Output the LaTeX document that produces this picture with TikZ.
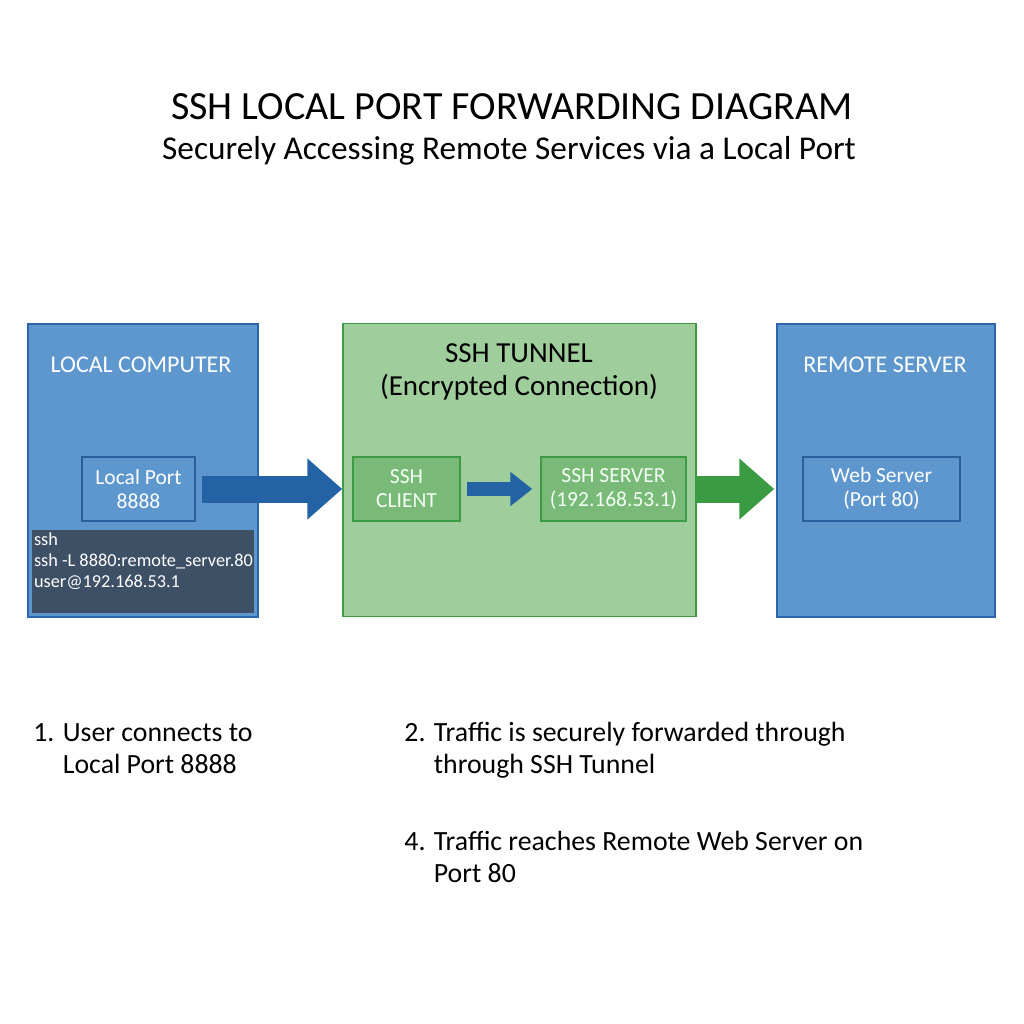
\documentclass[tikz,border=0pt]{standalone}
\usepackage{fontspec}
\setmainfont{Carlito}
\usetikzlibrary{positioning,arrows.meta}
\definecolor{boxblue}{HTML}{5D97CE}
\definecolor{edgeblue}{HTML}{2E66AD}
\definecolor{innerblue}{HTML}{2B5E9C}
\definecolor{termgray}{HTML}{3D5066}
\definecolor{boxgreen}{HTML}{9FCD9B}
\definecolor{innergreen}{HTML}{79BA79}
\definecolor{edgegreen}{HTML}{3E9B45}
\definecolor{arrowblue}{HTML}{2462A6}
\definecolor{arrowgreen}{HTML}{3A9B43}
\begin{document}
\begin{tikzpicture}[x=1pt, y=-1pt, thick,
  outer/.style = {draw=edgeblue, fill=boxblue, line width=1.5pt, inner sep=0pt, minimum height=293pt},
  inner/.style = {draw=innerblue, fill=boxblue, line width=1.5pt, minimum height=64pt, inner sep=0pt, text=white, align=center, font=\fontsize{21.5}{24}\selectfont},
  ginner/.style = {inner, draw=edgegreen, fill=innergreen, text=white!95!green},
  head/.style = {text=white, font=\fontsize{24}{28}\selectfont, anchor=base},
  note/.style = {anchor=base west, inner sep=0pt, align=left, font=\fontsize{27.8}{32}\selectfont},
  fat/.style = {line width=27pt, -{Triangle[length=35pt, width=59pt]}}]
\useasboundingbox[fill=white] (0,0) rectangle (1024,1024);
\node (title) [anchor=base, font=\fontsize{40}{44}\selectfont] at (512,120) {SSH LOCAL PORT FORWARDING DIAGRAM};
\node (subtitle) [anchor=base, font=\fontsize{33.3}{38}\selectfont] at (509,160) {Securely Accessing Remote Services via a Local Port};
\node[outer, minimum width=230pt] (local) at (143,470.5) {};
\node[outer, minimum width=353pt, draw=edgegreen, fill=boxgreen] (tunnel) at (519.5,470) {};
\node[outer, minimum width=218pt] (remote) at (886,470.5) {};
\node[head] (localname) at (141,372) {LOCAL COMPUTER};
\node[head] (remotename) at (885,372) {REMOTE SERVER};
\node[align=center, font=\fontsize{29}{33}\selectfont] (tunnelname) at (519,372) {SSH TUNNEL\\(Encrypted Connection)};
\node[inner, minimum width=113pt] (lport) at (138.5,489) {Local Port\\8888};
\node[fill=termgray, minimum width=222pt, minimum height=83pt, inner sep=0pt] (term) at (143,571.5) {};
\node[anchor=north west, inner sep=0pt, align=left, text=white, font=\fontsize{18.3}{21}\selectfont] (cmd) at ([xshift=2pt, yshift=-3pt]term.north west) {ssh\\ ssh -L 8880:remote\_server.80\\user@192.168.53.1};
\node[ginner, minimum width=107pt] (client) at (406.5,489) {SSH\\CLIENT};
\node[ginner, minimum width=145pt] (server) at (613.5,489) {SSH SERVER\\(192.168.53.1)};
\node[inner, minimum width=157pt] (web) at (881.5,489) {Web Server\\(Port 80)};
\draw[fat, draw=arrowblue, fill=arrowblue] ([xshift=6pt]lport.east) -- (lport.east -| tunnel.west);
\draw[line width=14pt, -{Triangle[length=22pt, width=33pt]}, draw=arrowblue, fill=arrowblue] ([xshift=6pt]client.east) -- ([xshift=-8pt]server.west);
\draw[fat, draw=arrowgreen, fill=arrowgreen] (server.east -| tunnel.east) -- ([xshift=-2pt]server.east -| remote.west);
\node[note] (step1) at (33,773) {1. User connects to\\\phantom{1. }Local Port 8888};
\node[note] (step2) at (404,773) {2. Traffic is securely forwarded through\\\phantom{2. }through SSH Tunnel};
\node[note] (step4) at (404,882) {4. Traffic reaches Remote Web Server on\\\phantom{4. }Port 80};
\end{tikzpicture}
\end{document}
